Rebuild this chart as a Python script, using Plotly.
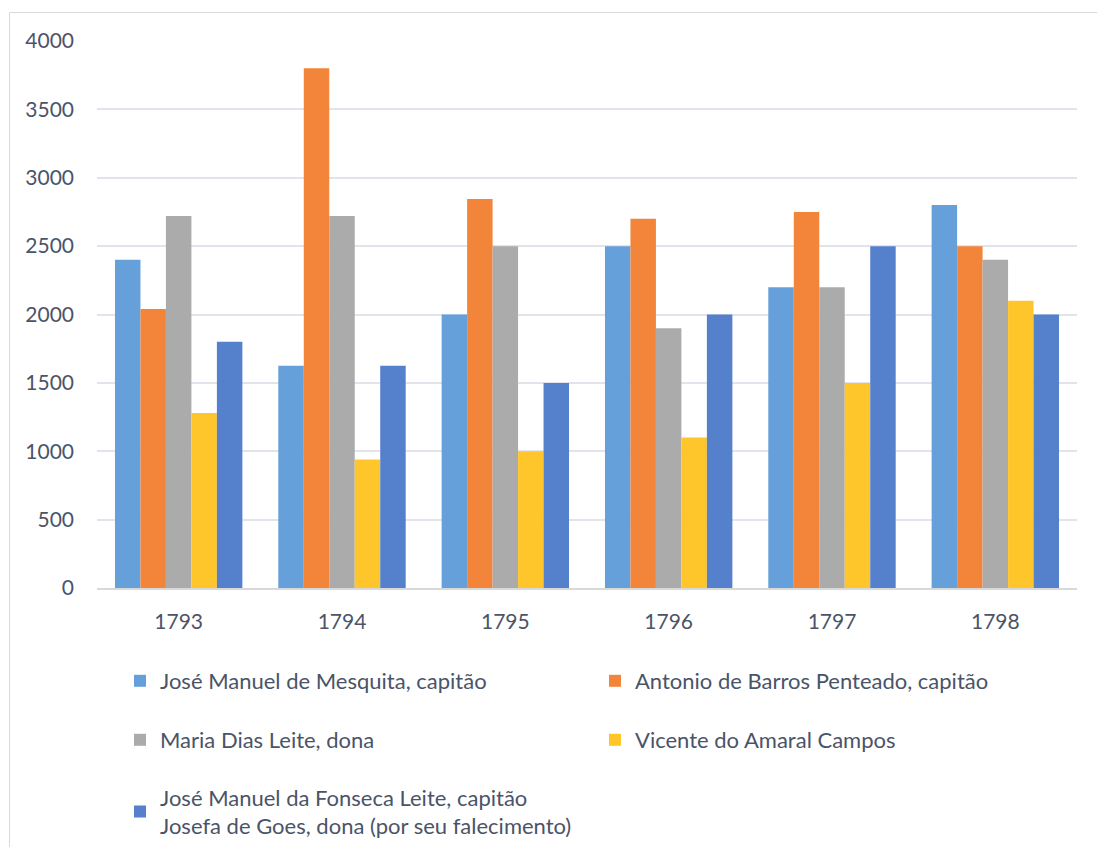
import plotly.graph_objects as go

years = ["1793", "1794", "1795", "1796", "1797", "1798"]

mesquita = [2400, 1625, 2000, 2500, 2200, 2800]
penteado = [2040, 3800, 2845, 2700, 2750, 2500]
maria_dias = [2720, 2720, 2500, 1900, 2200, 2400]
amaral_campos = [1280, 940, 1000, 1100, 1500, 2100]
fonseca_leite = [1800, 1625, 1500, 2000, 2500, 2000]

series_names = [
    "José Manuel de Mesquita, capitão",
    "Antonio de Barros Penteado, capitão",
    "Maria Dias Leite, dona",
    "Vicente do Amaral Campos",
    "José Manuel da Fonseca Leite, capitão<br>Josefa de Goes, dona (por seu falecimento)",
]
series_values = [mesquita, penteado, maria_dias, amaral_campos, fonseca_leite]
colors = ["#65A0DB", "#F3853B", "#ABABAB", "#FFC62B", "#5581CC"]

FONT = "Lato"
TEXT = "#4A5468"

W, H = 1097, 847
ML, MR, MT, MB = 97, 20, 41, 259
PW, PH = W - ML - MR, H - MT - MB

def px_x(x):
    return (x - ML) / PW

def px_y(y):
    return (H - MB - y) / PH

# legend slots in container coordinates: (left x, text centre y)
legend_slots = [(120, 681), (595, 681), (120, 740), (595, 740), (120, 812)]

fig = go.Figure()
for i, (name, vals, col) in enumerate(zip(series_names, series_values, colors)):
    lg = "legend" if i == 0 else f"legend{i + 1}"
    fig.add_trace(go.Bar(
        x=years, y=vals, name=name, marker=dict(color=col, line=dict(width=0)),
        legend=lg,
    ))

legend_layouts = {}
for i, (lx, ly) in enumerate(legend_slots):
    key = "legend" if i == 0 else f"legend{i + 1}"
    legend_layouts[key] = dict(
        xref="container", yref="container",
        x=lx / W, y=1 - ly / H, xanchor="left", yanchor="middle",
        font=dict(family=FONT, size=22, color=TEXT),
        bgcolor="rgba(0,0,0,0)", itemwidth=30, tracegroupgap=0,
    )

fig.update_layout(
    width=W, height=H,
    margin=dict(l=ML, r=MR, t=MT, b=MB, autoexpand=False),
    paper_bgcolor="white", plot_bgcolor="white",
    barmode="group", bargap=0.22, bargroupgap=0,
    font=dict(family=FONT, size=21, color=TEXT),
    showlegend=True,
    **legend_layouts,
    xaxis=dict(
        showgrid=False, showline=True, linecolor="#D9D9D9", linewidth=1.5,
        ticks="", ticklabelstandoff=14,
        tickfont=dict(family=FONT, size=21, color=TEXT),
    ),
    yaxis=dict(
        range=[0, 4000], dtick=500, showgrid=True, gridcolor="#E1E4EA", gridwidth=1.5,
        zeroline=False, showline=False, ticks="", ticklabelstandoff=22,
        tickfont=dict(family=FONT, size=21, color=TEXT),
    ),
    shapes=[dict(
        type="rect", xref="paper", yref="paper",
        x0=px_x(9.5), x1=px_x(W + 5), y0=px_y(H + 5), y1=px_y(12.5),
        line=dict(color="#D9D9D9", width=1), fillcolor="rgba(0,0,0,0)", layer="below",
    )],
)

fig.write_html("out.html")
